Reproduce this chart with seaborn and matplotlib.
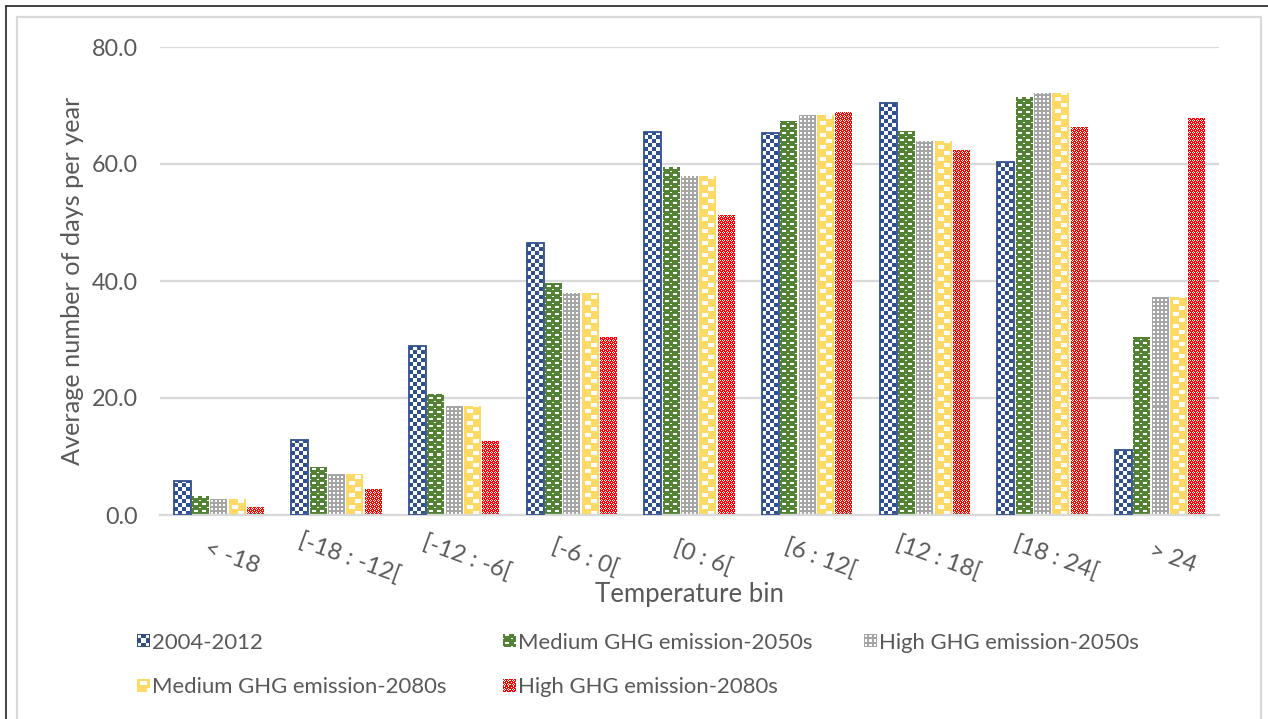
import numpy as np
import pandas as pd
import matplotlib
matplotlib.use("Agg")
import matplotlib.pyplot as plt
import seaborn as sns
from matplotlib.colors import to_rgba
from matplotlib.lines import Line2D
from matplotlib.patches import Patch
from matplotlib.image import BboxImage
from matplotlib.transforms import Bbox, TransformedBbox, ScaledTranslation
from matplotlib.legend_handler import HandlerBase

# ---- data ----
temperature_bins = ["< -18", "[-18 : -12[", "[-12 : -6[", "[-6 : 0[", "[0 : 6[",
                    "[6 : 12[", "[12 : 18[", "[18 : 24[", "> 24"]
scenarios = ["2004-2012", "Medium GHG emission-2050s", "High GHG emission-2050s",
             "Medium GHG emission-2080s", "High GHG emission-2080s"]
days_2004_2012 = [5.8, 12.8, 28.9, 46.5, 65.5, 65.3, 70.5, 60.4, 11.1]
days_medium_2050s = [3.3, 8.2, 20.7, 39.7, 59.5, 67.4, 65.6, 71.5, 30.4]
days_high_2050s = [2.8, 7.0, 18.6, 37.9, 57.9, 68.4, 63.9, 72.1, 37.3]
days_medium_2080s = [2.8, 7.0, 18.6, 37.9, 57.9, 68.4, 63.9, 72.1, 37.3]
days_high_2080s = [1.4, 4.4, 12.6, 30.4, 51.3, 68.9, 62.4, 66.3, 67.9]
y_ticks = [0, 20, 40, 60, 80]

series = [days_2004_2012, days_medium_2050s, days_high_2050s,
          days_medium_2080s, days_high_2080s]
df = pd.DataFrame({
    "bin": np.repeat([temperature_bins], len(scenarios), axis=0).ravel(),
    "scenario": np.repeat(scenarios, len(temperature_bins)),
    "days": np.concatenate(series),
})

colors = ["#2F4F8F", "#548235", "#A5A5A5", "#FFD966", "#FF0000"]
TEXT = "#595959"
GRID = "#D9D9D9"


# ---- fill patterns (True = coloured pixel) ----
def pattern_checker():
    r = np.arange(8)
    return ((r[:, None] // 4 + r[None, :] // 4) % 2) == 0


def pattern_brick():
    m = np.ones((7, 8), bool)
    m[2:4, 2:6] = False
    m[6, 0] = False
    m[6, 7] = False
    return m


def pattern_grid():
    m = np.ones((4, 4), bool)
    m[1:3, 1:3] = False
    return m


def pattern_wave():
    m = np.ones((12, 16), bool)
    m[2:6, 3:9] = False
    m[8:12, 9:15] = False
    return m


def pattern_confetti():
    m = np.ones((4, 4), bool)
    m[0, 1] = m[1, 0] = m[1, 2] = m[2, 1] = False
    m[3, 3] = False
    return m


patterns = [pattern_checker(), pattern_brick(), pattern_grid(),
            pattern_wave(), pattern_confetti()]


def texture(mask, color, h, w):
    h, w = max(int(h), 1), max(int(w), 1)
    th, tw = mask.shape
    tiled = np.tile(mask, (h // th + 2, w // tw + 2))
    tiled = tiled[tiled.shape[0] - h:, :w]  # anchor pattern at the bottom
    arr = np.ones((h, w, 4))
    arr[tiled] = to_rgba(color)
    return arr


# ---- figure ----
sns.set_theme(style="white")
plt.rcParams["font.family"] = ["Lato", "DejaVu Sans"]

W, H = 1268, 719
fig = plt.figure(figsize=(W / 100, H / 100), dpi=100)
ax = fig.add_axes([160 / W, 1 - 515 / H, (1219 - 160) / W, (515 - 47) / H])

sns.barplot(data=df, x="bin", y="days", hue="scenario", order=temperature_bins,
            hue_order=scenarios, palette=colors, saturation=1, errorbar=None,
            width=0.78, gap=0.08, legend=False, ax=ax)

ax.set_xlim(-0.5, len(temperature_bins) - 0.5)
ax.set_ylim(0, 80)

# textured fill clipped to each bar, aligned to whole device pixels
inv = ax.transData.inverted()
for idx, container in enumerate(ax.containers):
    for bar in container:
        x0, w, hgt = bar.get_x(), bar.get_width(), bar.get_height()
        p0 = np.round(ax.transData.transform((x0, 0)))
        p1 = np.round(ax.transData.transform((x0 + w, hgt)))
        d0 = inv.transform(p0)
        d1 = inv.transform(p1)
        arr = texture(patterns[idx], colors[idx], p1[1] - p0[1], p1[0] - p0[0])
        im = ax.imshow(arr, extent=(d0[0], d1[0], d0[1], d1[1]), origin="upper",
                       interpolation="nearest", aspect="auto", zorder=2.5)
        im.set_clip_path(bar)
        bar.set_facecolor("none")
        bar.set_zorder(3)
        if idx == 0:
            bar.set_edgecolor(colors[0])
            bar.set_linewidth(1.3)
        else:
            bar.set_edgecolor("none")

ax.set_xlim(-0.5, len(temperature_bins) - 0.5)
ax.set_ylim(0, 80)

# axes styling
ax.set_yticks(y_ticks)
ax.set_yticklabels([f"{v:.1f}" for v in y_ticks])
ax.yaxis.grid(True, color=GRID, linewidth=1.6)
ax.set_axisbelow(True)
for s in ["left", "right", "top"]:
    ax.spines[s].set_visible(False)
ax.spines["bottom"].set_color(GRID)
ax.spines["bottom"].set_linewidth(1.6)
ax.tick_params(axis="both", length=0, labelcolor=TEXT)
ax.tick_params(axis="y", pad=16, labelsize=16.8)
ax.tick_params(axis="x", pad=31, labelsize=17.3)

# rotated category labels, each centred on a point just below-right of its tick
ax.set_xticks(range(len(temperature_bins)))
ax.set_xticklabels(temperature_bins, rotation=-20, ha="center", va="center",
                   rotation_mode="anchor")
shift = ScaledTranslation(13 / 100, 0, fig.dpi_scale_trans)
for lbl in ax.get_xticklabels():
    lbl.set_transform(lbl.get_transform() + shift)

ax.set_xlabel("Temperature bin", fontsize=18.5, color=TEXT)
ax.xaxis.set_label_coords(0.5, (515 - 582) / 468)
ax.set_ylabel("Average number of days per year", fontsize=18.2, color=TEXT)
ax.yaxis.set_label_coords((84 - 160) / 1059, 0.5)


# ---- legend with textured swatches ----
class TextureHandler(HandlerBase):
    def __init__(self, mask, color, border=None):
        super().__init__()
        self.mask, self.color, self.border = mask, color, border

    def create_artists(self, legend, orig_handle, xdescent, ydescent,
                       width, height, fontsize, trans):
        s = min(width, height)
        bb = Bbox.from_bounds(-xdescent, -ydescent + (height - s) / 2, s, s)
        arr = texture(self.mask, self.color, 12, 12)
        if self.border is not None:
            arr[[0, -1], :] = to_rgba(self.border)
            arr[:, [0, -1]] = to_rgba(self.border)
        img = BboxImage(TransformedBbox(bb, trans), interpolation="nearest")
        img.set_data(arr)
        return [img]


handles = [Patch(label=s) for s in scenarios]
handler_map = {h: TextureHandler(patterns[i], colors[i], colors[0] if i == 0 else None)
               for i, h in enumerate(handles)}

legend_cols = [([0, 3], 137), ([1, 4], 503), ([2], 864)]
for members, xpix in legend_cols:
    leg = fig.legend([handles[i] for i in members], [scenarios[i] for i in members],
                     handler_map=handler_map, loc="upper left",
                     bbox_to_anchor=(xpix / W, 1 - 633 / H), frameon=False,
                     fontsize=15.9, borderpad=0, borderaxespad=0, handlelength=0.55,
                     handleheight=0.55, handletextpad=0.15, labelspacing=1.1)
    for t in leg.get_texts():
        t.set_color(TEXT)

# chart frame
fig.add_artist(Line2D([6 / W, 6 / W], [0, 1 - 6 / H], color="#222222", lw=1.2,
                      transform=fig.transFigure))
fig.add_artist(Line2D([6 / W, 1], [1 - 6 / H, 1 - 6 / H], color="#222222", lw=1.2,
                      transform=fig.transFigure))
fig.add_artist(Line2D([17 / W, 17 / W, 1261 / W, 1261 / W],
                      [0, 1 - 17 / H, 1 - 17 / H, 0], color=GRID, lw=1.6,
                      transform=fig.transFigure))

fig.savefig("out.png", dpi=100)
